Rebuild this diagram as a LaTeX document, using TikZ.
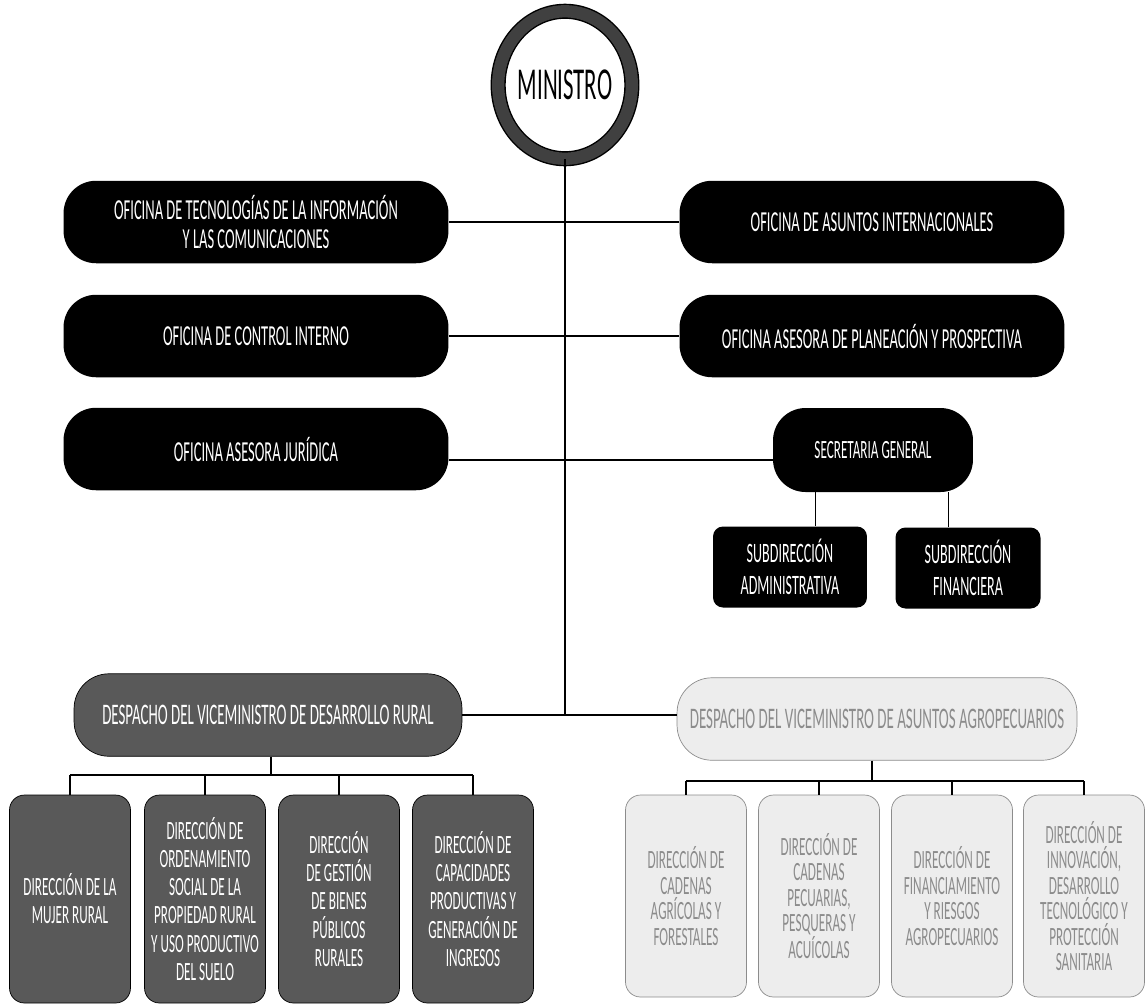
\documentclass[tikz,border=0pt]{standalone}
\usepackage{fontspec}
\setmainfont{Carlito}[FakeStretch=0.5]
\usetikzlibrary{shapes.geometric}

\begin{document}
\begin{tikzpicture}[x=0.02cm,y=-0.02cm]
	\tikzset{oficina/.style={rectangle, rounded corners=0.65cm, fill=black, text=white, align=center, minimum width=7.7cm, minimum height=1.65cm, font=\fontsize{16.5}{16}\selectfont},
		secretaria/.style={oficina, minimum width=4cm, minimum height=1.68cm, font=\fontsize{15}{14}\selectfont},
		subdir/.style={rectangle, rounded corners=0.2cm, fill=black, text=white, align=center, minimum height=1.62cm, font=\fontsize{16}{18}\selectfont},
		vicerural/.style={rectangle, rounded corners=0.7cm, fill=black!65, draw=black, text=white, align=center, minimum height=1.65cm, font=\fontsize{17}{17}\selectfont},
		viceagro/.style={vicerural, fill=black!7, draw=black!45, text=black!45},
		dirrural/.style={rectangle, rounded corners=0.3cm, fill=black!65, draw=black, text=white, align=center, minimum width=2.42cm, minimum height=4.16cm, font=\fontsize{15}{16}\selectfont},
		diragro/.style={dirrural, minimum height=4.04cm, fill=black!7, draw=black!45, text=black!45, font=\fontsize{15}{14.5}\selectfont},
		linea/.style={draw=black, line width=0.8pt}}
	\useasboundingbox (0,0) rectangle (1145,1005);

	\node [ellipse, draw=black, line width=0.8pt, double=black!75, double distance=7pt, fill=white, minimum width=2.2cm, minimum height=2.95cm, inner sep=0pt, font=\fontsize{26}{26}\selectfont] (min) at (565,85) {MINISTRO};

	\node [oficina] (tic) at (256,222) {OFICINA DE TECNOLOGÍAS DE LA INFORMACIÓN\\Y LAS COMUNICACIONES};
	\node [oficina] (ai) at (872,222) {OFICINA DE ASUNTOS INTERNACIONALES};
	\node [oficina] (ci) at (256,336) {OFICINA DE CONTROL INTERNO};
	\node [oficina] (pp) at (872,336) {OFICINA ASESORA DE PLANEACIÓN Y PROSPECTIVA};
	\node [oficina] (jur) at (256,449) {OFICINA ASESORA JURÍDICA};
	\node [secretaria] (sg) at (873,450) {SECRETARIA GENERAL};

	\node [subdir, minimum width=3.08cm] (adm) at (790,567) {SUBDIRECCIÓN\\ADMINISTRATIVA};
	\node [subdir, minimum width=2.9cm] (fin) at (968,568) {SUBDIRECCIÓN\\FINANCIERA};

	\node [vicerural, minimum width=7.76cm] (vdr) at (268,715) {DESPACHO DEL VICEMINISTRO DE DESARROLLO RURAL};
	\node [viceagro, minimum width=8cm] (vaa) at (877,719) {DESPACHO DEL VICEMINISTRO DE ASUNTOS AGROPECUARIOS};

	\node [dirrural] (dr1) at (70,899) {DIRECCIÓN DE LA\\MUJER RURAL};
	\node [dirrural] (dr2) at (205,899) {DIRECCIÓN DE\\ORDENAMIENTO\\SOCIAL DE LA\\PROPIEDAD RURAL\\Y USO PRODUCTIVO\\DEL SUELO};
	\node [dirrural] (dr3) at (339,899) {DIRECCIÓN\\DE GESTIÓN\\DE BIENES\\PÚBLICOS\\RURALES};
	\node [dirrural] (dr4) at (473,899) {DIRECCIÓN DE\\CAPACIDADES\\PRODUCTIVAS Y\\GENERACIÓN DE\\INGRESOS};

	\node [diragro] (da1) at (686,896) {DIRECCIÓN DE\\CADENAS\\AGRÍCOLAS Y\\FORESTALES};
	\node [diragro] (da2) at (819,896) {DIRECCIÓN DE\\CADENAS\\PECUARIAS,\\PESQUERAS Y\\ACUÍCOLAS};
	\node [diragro] (da3) at (952,896) {DIRECCIÓN DE\\FINANCIAMIENTO\\Y RIESGOS\\AGROPECUARIOS};
	\node [diragro] (da4) at (1084,896) {DIRECCIÓN DE\\INNOVACIÓN,\\DESARROLLO\\TECNOLÓGICO Y\\PROTECCIÓN\\SANITARIA};

	\coordinate (busr) at (271,775);
	\coordinate (busa) at (872,781);

	\draw [linea] (min.south) -- (min.south |- vdr.east);
	\draw [linea] (tic.east) -- (ai.west);
	\draw [linea] (ci.east) -- (pp.west);
	\draw [linea] ([yshift=-0.22cm]jur.east) -- ([yshift=-0.22cm]jur.east -| sg.west);
	\draw [linea] (vdr.east) -- (vdr.east -| vaa.west);

	\draw [linea, line width=0.5pt] ([xshift=0.5cm]adm.north) -- ([xshift=0.5cm]adm.north |- sg.south);
	\draw [linea, line width=0.5pt] ([xshift=-0.39cm]fin.north) -- ([xshift=-0.39cm]fin.north |- sg.south);

	\draw [linea] (vdr.south -| busr) -- (busr);
	\draw [linea] (busr -| dr1.north) -- (busr -| dr4.north);
	\foreach \i in {1,...,4}
		\draw [linea] (busr -| dr\i.north) -- (dr\i.north);

	\draw [linea] (vaa.south -| busa) -- (busa);
	\draw [linea] (busa -| da1.north) -- (busa -| da4.north);
	\foreach \i in {1,...,4}
		\draw [linea] (busa -| da\i.north) -- (da\i.north);
\end{tikzpicture}
\end{document}
